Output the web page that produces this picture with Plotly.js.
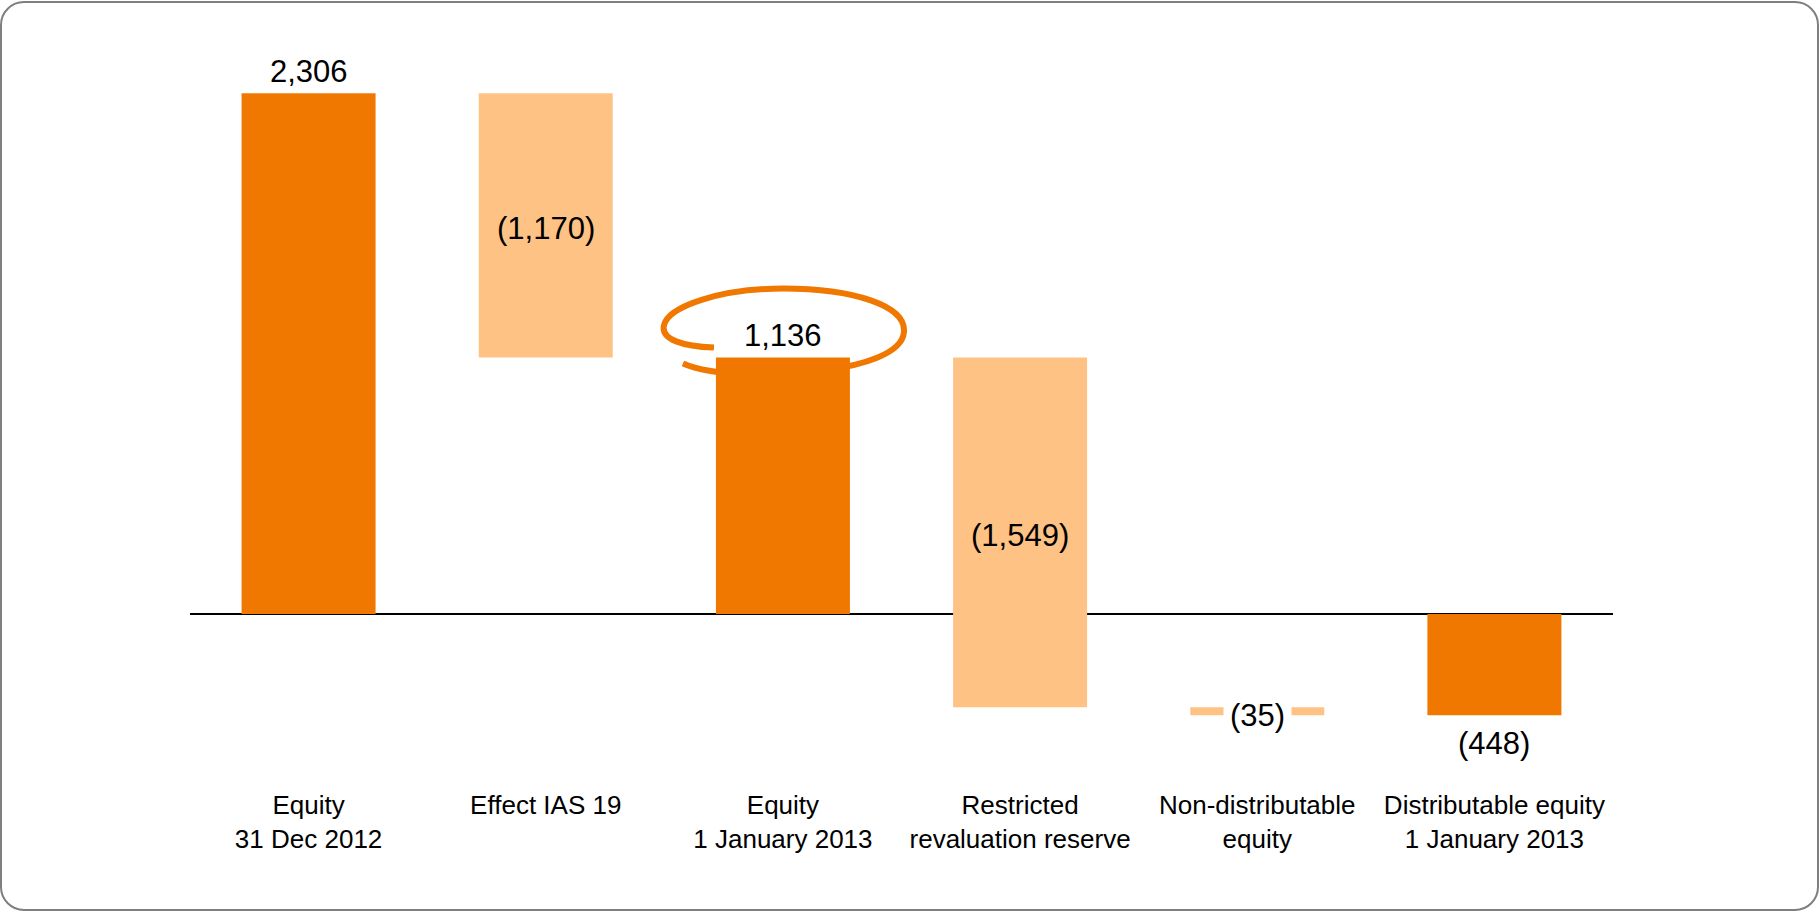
<!DOCTYPE html>
<html><head><meta charset="utf-8">
<script src="https://cdn.plot.ly/plotly-3.0.1.min.js"></script>
<style>
html,body{margin:0;padding:0;background:#fff;}
#frame{position:absolute;left:0;top:1px;width:1819px;height:910px;box-sizing:border-box;border:2px solid #7f7f7f;border-radius:24px;}
#chart{position:absolute;left:0;top:0;width:1820px;height:912px;}
</style></head><body>
<div id="frame"></div><div id="chart"></div>
<script>
const categories = ["Equity<br>31 Dec 2012", "Effect IAS 19", "Equity<br>1 January 2013",
  "Restricted<br>revaluation reserve", "Non-distributable<br>equity", "Distributable equity<br>1 January 2013"];
const measures = ["absolute", "relative", "total", "relative", "relative", "total"];
const values = [2306, -1170, 1136, -1549, -35, -448];
const valueLabels = ["2,306", "(1,170)", "1,136", "(1,549)", "(35)", "(448)"];
const labelPlacement = ["above", "middle", "above", "middle", "middle-bg", "below"];

const DARK = "#F07800", LIGHT = "#FFC285";
const W = 1820, H = 912;
const M = {l: 190, r: 207, t: 50, b: 132};
const yRange = [-735, 2498];
const xRange = [-0.5, 5.5];
const plotW = W - M.l - M.r, plotH = H - M.t - M.b;
const pxPerCat = plotW / (xRange[1] - xRange[0]);
const pxPerUnit = plotH / (yRange[1] - yRange[0]);

const xs = categories.map((c, i) => i);

// running start/end for each bar
let running = 0; const starts = [], ends = [];
measures.forEach((m, i) => {
  if (m === "absolute") { starts.push(0); ends.push(values[i]); running = values[i]; }
  else if (m === "relative") { starts.push(running); running += values[i]; ends.push(running); }
  else { starts.push(0); ends.push(running); }
});

const font = 'Liberation Sans, Arial, Helvetica, sans-serif';
const annotations = valueLabels.map((t, i) => {
  const top = Math.max(starts[i], ends[i]), bot = Math.min(starts[i], ends[i]);
  const a = {x: xs[i], xref: "x", yref: "y", text: t, showarrow: false,
    font: {family: font, size: 31, color: "#000"}, xanchor: "center", yanchor: "middle"};
  const p = labelPlacement[i];
  if (p === "above") { a.y = top; a.yshift = 22; }
  else if (p === "below") { a.y = bot; a.yshift = -28; }
  else { a.y = (top + bot) / 2; a.yshift = -3; }
  if (p === "middle-bg") { a.bgcolor = "#fff"; a.borderpad = 6; a.yshift = -4; }
  return a;
});

// hand-drawn loop around the 1 January 2013 equity label (offsets in px from bar top-centre)
const ax = xs[2], ay = ends[2];
function P(dx, dy) { return (ax + dx / pxPerCat).toFixed(4) + "," + (ay - dy / pxPerUnit).toFixed(2); }
const loop = "M" + P(-69, -10) +
  " C" + P(-100, -11) + " " + P(-122, -18) + " " + P(-119, -32) +
  " C" + P(-115, -52) + " " + P(-60, -69) + " " + P(0, -69) +
  " C" + P(70, -69) + " " + P(124, -52) + " " + P(121, -25) +
  " C" + P(119, -4) + " " + P(80, 8) + " " + P(40, 13) +
  " C" + P(-10, 19) + " " + P(-70, 19) + " " + P(-100, 6);

const trace = {
  type: "waterfall", x: xs, y: values, measure: measures,
  width: 0.565, connector: {visible: false},
  increasing: {marker: {color: DARK}}, decreasing: {marker: {color: LIGHT}},
  totals: {marker: {color: DARK}}, hoverinfo: "none", textinfo: "none", showlegend: false
};

const layout = {
  width: W, height: H, margin: M,
  paper_bgcolor: "rgba(0,0,0,0)", plot_bgcolor: "rgba(0,0,0,0)",
  font: {family: font, color: "#000"},
  showlegend: false,
  xaxis: {range: xRange, tickmode: "array", tickvals: xs, ticktext: categories,
    showgrid: false, zeroline: false, showline: false, ticks: "", ticklabelstandoff: 7,
    tickfont: {family: font, size: 26, color: "#000"}, fixedrange: true},
  yaxis: {range: yRange, showgrid: false, showticklabels: false, ticks: "", showline: false,
    zeroline: true, zerolinecolor: "#000", zerolinewidth: 2.5, fixedrange: true},
  annotations: annotations,
  shapes: [{type: "path", xref: "x", yref: "y", path: loop, line: {color: DARK, width: 6}, layer: "above"}]
};

Plotly.newPlot("chart", [trace], layout, {displayModeBar: false, staticPlot: true});
</script></body></html>
